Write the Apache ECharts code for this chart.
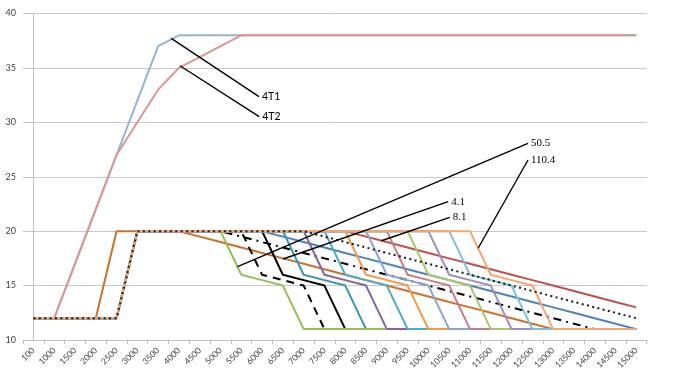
<!DOCTYPE html>
<html>
<head>
<meta charset="utf-8">
<script src="https://cdn.jsdelivr.net/npm/echarts@6/dist/echarts.min.js"></script>
<style>
html,body{margin:0;padding:0;background:#fff;}
#chart{width:697px;height:375px;}
</style>
</head>
<body>
<div id="chart"></div>
<script>
// ---------- data ----------
const categories = ['100','1000','1500','2000','2500','3000','3500','4000','4500','5000','5500','6000','6500','7000','7500','8000','8500','9000','9500','10000','10500','11000','11500','12000','12500','13000','13500','14000','14500','15000'];

const yTicks = { min: 10, max: 40, step: 5 };

const s4T1 = [12,12,17,22,27,32,37,38,38,38,38,38,38,38,38,38,38,38,38,38,38,38,38,38,38,38,38,38,38,38];
const s4T2 = [12,12,17,22,27,30,33,35,36,37,38,38,38,38,38,38,38,38,38,38,38,38,38,38,38,38,38,38,38,38];

const slopeBrown = [12,12,12,12,20,20,20,20,19.5,19,18.5,18,17.5,17,16.5,16,15.5,15,14.5,14,13.5,13,12.5,12,11.5,11,11,11,11,11];
const slopeDashDot = [12,12,12,12,12,20,20,20,20,20,19.5,19,18.5,18,17.5,17,16.5,16,15.5,15,14.5,14,13.5,13,12.5,12,11.5,11,11,11];
const slopeBlue = [12,12,12,12,12,20,20,20,20,20,20,20,19.5,19,18.5,18,17.5,17,16.5,16,15.5,15,14.5,14,13.5,13,12.5,12,11.5,11];
const slopeDotted = [12,12,12,12,12,20,20,20,20,20,20,20,20,20,19.5,19,18.5,18,17.5,17,16.5,16,15.5,15,14.5,14,13.5,13,12.5,12];
const slopeRed = [12,12,12,12,12,20,20,20,20,20,20,20,20,20,20,20,19.5,19,18.5,18,17.5,17,16.5,16,15.5,15,14.5,14,13.5,13];

const stepGreen = [12,12,12,12,12,20,20,20,20,20,16,15.5,15,11,11,11,11,11,11,11,11,11,11,11,11,11,11,11,11,11];
const stepBlackDash = [12,12,12,12,12,20,20,20,20,20,20,16,15.5,15,11,11,11,11,11,11,11,11,11,11,11,11,11,11,11,11];
const stepBlack = [12,12,12,12,12,20,20,20,20,20,20,20,16,15.5,15,11,11,11,11,11,11,11,11,11,11,11,11,11,11,11];
const stepTeal = [12,12,12,12,12,20,20,20,20,20,20,20,20,16,15.5,15,11,11,11,11,11,11,11,11,11,11,11,11,11,11];
const stepPurple = [12,12,12,12,12,20,20,20,20,20,20,20,20,20,16,15.5,15,11,11,11,11,11,11,11,11,11,11,11,11,11];
const stepAqua = [12,12,12,12,12,20,20,20,20,20,20,20,20,20,20,16,15.5,15,11,11,11,11,11,11,11,11,11,11,11,11];
const stepOrange = [12,12,12,12,12,20,20,20,20,20,20,20,20,20,20,20,16,15.5,15,11,11,11,11,11,11,11,11,11,11,11];
const stepLightBlue = [12,12,12,12,12,20,20,20,20,20,20,20,20,20,20,20,20,16,15.5,15,11,11,11,11,11,11,11,11,11,11];
const stepRose = [12,12,12,12,12,20,20,20,20,20,20,20,20,20,20,20,20,20,16,15.5,15,11,11,11,11,11,11,11,11,11];
const stepLightGreen = [12,12,12,12,12,20,20,20,20,20,20,20,20,20,20,20,20,20,20,16,15.5,15,11,11,11,11,11,11,11,11];
const stepLightPurple = [12,12,12,12,12,20,20,20,20,20,20,20,20,20,20,20,20,20,20,20,16,15.5,15,11,11,11,11,11,11,11];
const stepLightAqua = [12,12,12,12,12,20,20,20,20,20,20,20,20,20,20,20,20,20,20,20,20,16,15.5,15,11,11,11,11,11,11];
const stepLightOrange = [12,12,12,12,12,20,20,20,20,20,20,20,20,20,20,20,20,20,20,20,20,20,16,15.5,15,11,11,11,11,11];

// annotation leaders, in data units (x = category index, y = value)
const annoNames = ['4T1','4T2','50.5','4.1','8.1','110.4'];
const annoFrom = [[6.63,37.72],[7.05,35.20],[9.82,16.74],[12.01,17.44],[16.74,19.12],[21.39,18.43]];
const annoTo   = [[10.85,32.36],[10.86,30.52],[23.79,28.07],[19.95,22.71],[20.03,21.27],[23.79,26.54]];

// ---------- chart ----------
const chart = echarts.init(document.getElementById('chart'), null, {renderer:'canvas'});

function ln(name, data, color, type, width){
  return {
    name, type:'line', data, xAxisIndex:0, yAxisIndex:0,
    symbol:'none', animation:false, silent:true,
    lineStyle:{color, width: width || 2, type: type || 'solid', cap: 'butt'},
    itemStyle:{color}
  };
}

const series = [
  ln('4T1', s4T1, '#95B3D7'),
  ln('4T2', s4T2, '#D99694'),
  ln('slope-brown', slopeBrown, '#C8722F'),
  ln('slope-dashdot', slopeDashDot, '#000000', [8,5,2,5]),
  ln('slope-blue', slopeBlue, '#4F81BD'),
  ln('slope-red', slopeRed, '#C0504D'),
  ln('step-black', stepBlack, '#000000'),
  ln('step-teal', stepTeal, '#3A93B5'),
  ln('step-blackdash', stepBlackDash, '#000000', [8,6]),
  ln('step-green', stepGreen, '#9BBB59'),
  ln('step-purple', stepPurple, '#8064A2'),
  ln('step-aqua', stepAqua, '#4BACC6'),
  ln('step-orange', stepOrange, '#F79646'),
  ln('step-lightblue', stepLightBlue, '#8AA4D4'),
  ln('step-rose', stepRose, '#C97C86'),
  ln('step-lightgreen', stepLightGreen, '#A8C66C'),
  ln('step-lightpurple', stepLightPurple, '#A08BC6'),
  ln('step-lightaqua', stepLightAqua, '#7BC0DA'),
  ln('step-lightorange', stepLightOrange, '#F6A470'),
  ln('slope-dotted', slopeDotted, '#1a1a1a', [2,3.4], 2)
];

annoNames.forEach((nm, i) => {
  const serif = /^[0-9.]+$/.test(nm);
  series.push({
    name:'anno-'+nm, type:'line', xAxisIndex:1, yAxisIndex:0,
    symbol:'none', animation:false, silent:true,
    lineStyle:{color:'#000', width:1.4},
    data:[annoFrom[i], annoTo[i]],
    endLabel:{
      show:true, distance:3, formatter: nm,
      color:'#000', fontSize: serif ? 11 : 10.5,
      fontFamily: serif ? 'Liberation Serif' : 'Lato'
    },
    z: 5
  });
});

chart.setOption({
  backgroundColor:'#ffffff',
  animation:false,
  grid:{left:23, right:50.3, top:13.5, bottom:35, containLabel:false},
  xAxis:[
    {
      type:'category', data:categories, boundaryGap:true,
      axisLine:{show:true, lineStyle:{color:'#BFBFBF', width:1}},
      axisTick:{show:true, interval:0, length:4, lineStyle:{color:'#BFBFBF'}},
      axisLabel:{interval:0, rotate:45, fontSize:8.5, color:'#404040', margin:9, fontFamily:'Lato'},
      splitLine:{show:false}
    },
    {
      type:'value', min:-0.5, max:29.5, show:false
    }
  ],
  yAxis:{
    type:'value', min:yTicks.min, max:yTicks.max, interval:yTicks.step,
    axisLine:{show:true, lineStyle:{color:'#BFBFBF', width:1}},
    axisTick:{show:true, length:3, lineStyle:{color:'#BFBFBF'}},
    axisLabel:{fontSize:9, color:'#404040', margin:7, fontFamily:'Lato'},
    splitLine:{show:true, lineStyle:{color:'#C8C8C8', width:1}}
  },
  series
});
</script>
</body>
</html>
